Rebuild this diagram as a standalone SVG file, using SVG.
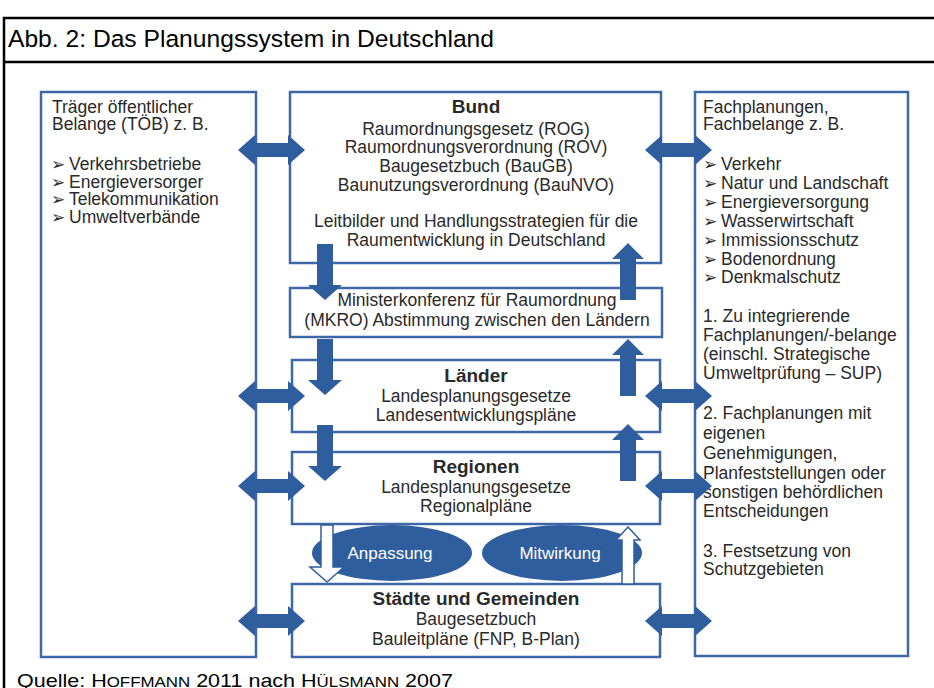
<svg xmlns="http://www.w3.org/2000/svg" xmlns:xlink="http://www.w3.org/1999/xlink" width="934" height="688" viewBox="0 0 934 688">
  <style>
    .frame { fill: none; stroke: #000; stroke-width: 2.5; }
    .box { fill: #fff; stroke: #3d67a6; stroke-width: 2.5; }
    .arrow { fill: #2f5e9e; }
    .hollow { fill: #fff; stroke: #2f5e9e; stroke-width: 1.5; }
    .oval { fill: #2f5e9e; }
    text { font-family: "Liberation Sans", Arial, "DejaVu Sans", sans-serif; fill: #2a2a2a; font-size: 17.5px; }
    .c { text-anchor: middle; }
    .b { font-weight: bold; font-size: 19px; }
    .w { fill: #fff; font-size: 17px; }
    .bul { font-family: "DejaVu Sans", sans-serif; font-size: 17px; }
    .title { font-size: 24.5px; fill: #000; }
    .src { font-size: 18.5px; fill: #000; }
  </style>
  <defs>
    <!-- double-headed horizontal arrow, left tip at origin -->
    <polygon id="dbl" points="0,0 17,-15 17,-7 50,-7 50,-15 67,0 50,15 50,7 17,7 17,15"/>
    <!-- downward arrow, top centre at origin -->
    <polygon id="down" points="-8,0 8,0 8,41 17,41 0,56 -17,41 -8,41"/>
    <!-- upward arrow, tip at origin -->
    <polygon id="up" points="0,0 16,16 8,16 8,57 -8,57 -8,16 -16,16"/>
  </defs>

  <rect width="934" height="688" fill="#fff"/>

  <!-- outer frame with title row -->
  <g id="frame">
    <rect class="frame" x="4" y="18" width="940" height="700"/>
    <line x1="4" y1="62" x2="934" y2="62" stroke="#000" stroke-width="2.5"/>
    <text class="title" x="8" y="47" textLength="486" lengthAdjust="spacingAndGlyphs">Abb. 2: Das Planungssystem in Deutschland</text>
  </g>

  <!-- left column: TÖB -->
  <g id="toeb">
    <rect class="box" x="41" y="92" width="215" height="565"/>
    <text x="52" y="113">Träger öffentlicher</text>
    <text x="52" y="130">Belange (TÖB) z. B.</text>
    <text y="170"><tspan class="bul" x="51">➢</tspan><tspan x="69">Verkehrsbetriebe</tspan></text>
    <text y="187.5"><tspan class="bul" x="51">➢</tspan><tspan x="69">Energieversorger</tspan></text>
    <text y="205"><tspan class="bul" x="51">➢</tspan><tspan x="69">Telekommunikation</tspan></text>
    <text y="222.5"><tspan class="bul" x="51">➢</tspan><tspan x="69">Umweltverbände</tspan></text>
  </g>

  <!-- right column: Fachplanungen -->
  <g id="fach">
    <rect class="box" x="695" y="92" width="213" height="564"/>
    <text x="703" y="113">Fachplanungen,</text>
    <text x="703" y="130">Fachbelange z. B.</text>
    <text y="170"><tspan class="bul" x="703">➢</tspan><tspan x="721">Verkehr</tspan></text>
    <text y="189"><tspan class="bul" x="703">➢</tspan><tspan x="721">Natur und Landschaft</tspan></text>
    <text y="208"><tspan class="bul" x="703">➢</tspan><tspan x="721">Energieversorgung</tspan></text>
    <text y="227"><tspan class="bul" x="703">➢</tspan><tspan x="721">Wasserwirtschaft</tspan></text>
    <text y="246"><tspan class="bul" x="703">➢</tspan><tspan x="721">Immissionsschutz</tspan></text>
    <text y="265"><tspan class="bul" x="703">➢</tspan><tspan x="721">Bodenordnung</tspan></text>
    <text y="283"><tspan class="bul" x="703">➢</tspan><tspan x="721">Denkmalschutz</tspan></text>
    <text x="703" y="322">1. Zu integrierende</text>
    <text x="703" y="341">Fachplanungen/-belange</text>
    <text x="703" y="360">(einschl. Strategische</text>
    <text x="703" y="379">Umweltprüfung – SUP)</text>
    <text x="703" y="419">2. Fachplanungen mit</text>
    <text x="703" y="439">eigenen</text>
    <text x="703" y="459">Genehmigungen,</text>
    <text x="703" y="479">Planfeststellungen oder</text>
    <text x="703" y="498">sonstigen behördlichen</text>
    <text x="703" y="517">Entscheidungen</text>
    <text x="703" y="557">3. Festsetzung von</text>
    <text x="703" y="575">Schutzgebieten</text>
  </g>

  <!-- centre column: planning levels -->
  <g id="bund">
    <rect class="box" x="290" y="92" width="371" height="171"/>
    <text class="c b" x="476" y="113">Bund</text>
    <text class="c" x="476" y="135">Raumordnungsgesetz (ROG)</text>
    <text class="c" x="476" y="153">Raumordnungsverordnung (ROV)</text>
    <text class="c" x="476" y="172">Baugesetzbuch (BauGB)</text>
    <text class="c" x="476" y="191">Baunutzungsverordnung (BauNVO)</text>
    <text class="c" x="476" y="227">Leitbilder und Handlungsstrategien für die</text>
    <text class="c" x="476" y="246">Raumentwicklung in Deutschland</text>
  </g>

  <g id="mkro">
    <rect class="box" x="290" y="288" width="372" height="49"/>
    <text class="c" x="477" y="306">Ministerkonferenz für Raumordnung</text>
    <text class="c" x="477" y="326">(MKRO) Abstimmung zwischen den Ländern</text>
  </g>

  <g id="laender">
    <rect class="box" x="292" y="360" width="368" height="72"/>
    <text class="c b" x="476" y="382">Länder</text>
    <text class="c" x="476" y="402">Landesplanungsgesetze</text>
    <text class="c" x="476" y="421">Landesentwicklungspläne</text>
  </g>

  <g id="regionen">
    <rect class="box" x="292" y="452" width="368" height="72"/>
    <text class="c b" x="476" y="473">Regionen</text>
    <text class="c" x="476" y="493">Landesplanungsgesetze</text>
    <text class="c" x="476" y="512">Regionalpläne</text>
  </g>

  <g id="anpassung">
    <ellipse class="oval" cx="392" cy="553" rx="80" ry="28"/>
    <text class="c w" x="390" y="559">Anpassung</text>
  </g>

  <g id="mitwirkung">
    <ellipse class="oval" cx="562" cy="553" rx="80" ry="28"/>
    <text class="c w" x="560" y="559">Mitwirkung</text>
  </g>

  <g id="staedte">
    <rect class="box" x="292" y="584" width="368" height="73"/>
    <text class="c b" x="476" y="605">Städte und Gemeinden</text>
    <text class="c" x="476" y="625">Baugesetzbuch</text>
    <text class="c" x="476" y="645">Bauleitpläne (FNP, B-Plan)</text>
  </g>

  <!-- connectors -->
  <g id="connectors">
    <!-- exchange with TÖB -->
    <use class="arrow" href="#dbl" x="238" y="150"/>
    <use class="arrow" href="#dbl" x="238" y="396"/>
    <use class="arrow" href="#dbl" x="238" y="486"/>
    <use class="arrow" href="#dbl" x="238" y="621"/>
    <!-- exchange with Fachplanungen -->
    <use class="arrow" href="#dbl" x="645" y="150"/>
    <use class="arrow" href="#dbl" x="645" y="396"/>
    <use class="arrow" href="#dbl" x="645" y="486"/>
    <use class="arrow" href="#dbl" x="645" y="621"/>
    <!-- top-down -->
    <use class="arrow" href="#down" x="325" y="244"/>
    <use class="arrow" href="#down" x="325" y="339"/>
    <use class="arrow" href="#down" x="325" y="425"/>
    <!-- bottom-up -->
    <use class="arrow" href="#up" x="628" y="243"/>
    <use class="arrow" href="#up" x="628" y="339"/>
    <use class="arrow" href="#up" x="628" y="424"/>
    <!-- municipal level -->
    <polygon class="hollow" points="321,525 333,525 333,567 344,567 327,582 310,567 321,567"/>
    <polygon class="hollow" points="628,527 640,540 634,540 634,584 622,584 622,540 616,540"/>
  </g>

  <!-- source line -->
  <text class="src" x="17" y="687" textLength="436" lengthAdjust="spacingAndGlyphs">Quelle: H<tspan font-size="14.5">OFFMANN</tspan> 2011 nach H<tspan font-size="14.5">ÜLSMANN</tspan> 2007</text>
</svg>
